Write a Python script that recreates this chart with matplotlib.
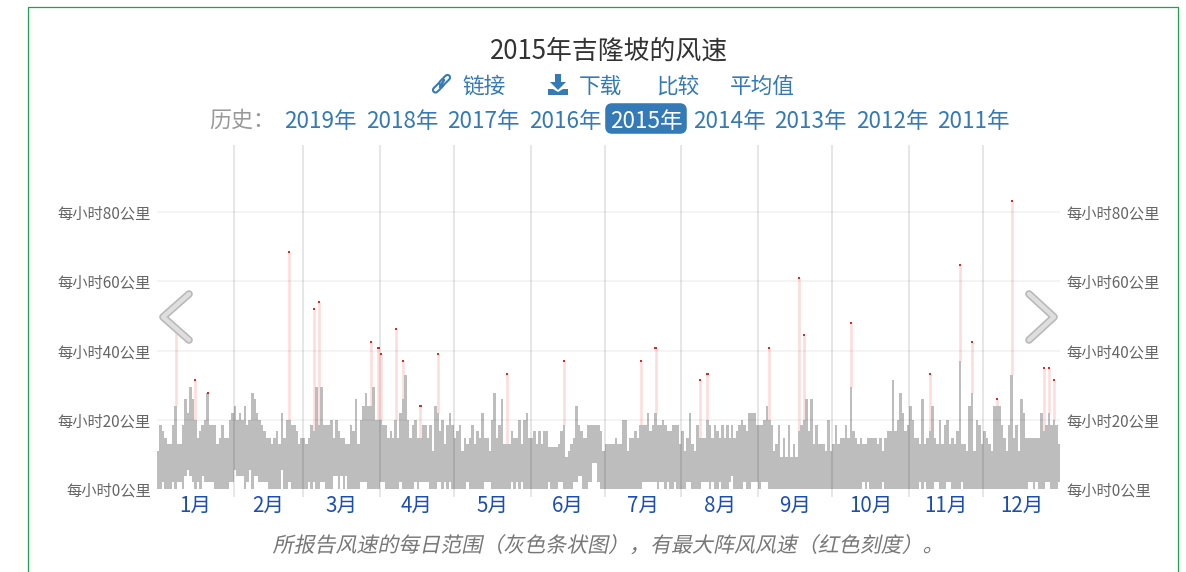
import matplotlib
matplotlib.use('Agg')
import matplotlib.pyplot as plt
import matplotlib.patheffects as pe
from matplotlib.patches import FancyBboxPatch, Polygon
from matplotlib.transforms import Affine2D

WIDTH = 1186
HEIGHT = 572
DPI = 100

plt.rcParams['font.family'] = ['Noto Sans CJK SC', 'DejaVu Sans']

TITLE = '2015年吉隆坡的风速'
CAPTION = '所报告风速的每日范围（灰色条状图），有最大阵风风速（红色刻度）。'
MONTHS = ['1月', '2月', '3月', '4月', '5月', '6月', '7月', '8月', '9月', '10月', '11月', '12月']
MONTH_DAYS = [31, 28, 31, 30, 31, 30, 31, 31, 30, 31, 30, 31]
YEARS = ['2019年', '2018年', '2017年', '2016年', '2015年', '2014年', '2013年', '2012年', '2011年']
Y_TICKS = [0, 20, 40, 60, 80]
Y_LABELS = ['每小时0公里', '每小时20公里', '每小时40公里', '每小时60公里', '每小时80公里']

# daily high in km/h
jan = [11, 18.5, 16.7, 14.8, 13, 13, 18.5, 24, 13, 13, 18.5, 26, 22, 29.6, 26, 20, 14.8, 16.7, 18.5, 20, 27.8,
       18.5, 18.5, 18.5, 13, 14.8, 18.5, 14.8, 14.8, 20, 22]
feb = [24, 20, 22, 20, 24, 18.5, 20, 27.8, 26, 22, 20, 18.5, 16.7, 14.8, 14.8, 13, 14.8, 16.7, 13, 22, 14.8,
       20, 20, 18.5, 18.5, 16.7, 13, 14.8]
mar = [14.8, 13, 14.8, 18.5, 16.7, 29.6, 18.5, 29.6, 18.5, 18.5, 18.5, 20, 14.8, 20, 16.7, 14.8, 14.8, 13, 13,
       18.5, 16.7, 26, 13, 20, 24, 27.8, 24, 24, 29.6, 20, 20]
apr = [20, 18.5, 18.5, 14.8, 16.7, 14.8, 20, 14.8, 22, 26, 33, 20, 14.8, 18.5, 20, 14.8, 14.8, 18.5, 18.5,
       14.8, 18.5, 11, 24, 22, 16.7, 20, 13, 18.5, 22, 18.5]
may = [14.8, 16.7, 18.5, 11, 14.8, 13, 14.8, 18.5, 13, 16.7, 14.8, 22, 14.8, 14.8, 11, 20, 27.8, 14.8, 18.5,
       26, 13, 13, 13, 16.7, 14.8, 14.8, 20, 13, 20, 22, 14.8]
jun = [14.8, 16.7, 13, 16.7, 13, 16.7, 16.7, 12, 12, 12, 12, 13, 16.7, 18.5, 9.3, 11, 13, 14.8, 24, 18.5,
       16.7, 14.8, 14.8, 18.5, 18.5, 18.5, 18.5, 18.5, 16.7, 11]
jul = [13, 13, 13, 13, 14.8, 13, 13, 20, 20, 11, 14.8, 14.8, 16.7, 14.8, 18.5, 18.5, 18.5, 22, 16.7, 18.5, 22,
       18.5, 18.5, 20, 18.5, 16.7, 16.7, 18.5, 18.5, 18.5, 13]
aug = [16.7, 11, 14.8, 22, 13, 11, 18.5, 14.8, 14.8, 14.8, 20, 18.5, 14.8, 18.5, 16.7, 14.8, 18.5, 14.8, 18.5,
       14.8, 18.5, 14.8, 16.7, 18.5, 20, 18.5, 16.7, 22, 22, 22, 18.5]
sep = [18.5, 18.5, 20, 24, 20, 18.5, 11, 13, 18.5, 9.3, 14.8, 9.3, 18.5, 9.3, 13, 9.3, 16.7, 18.5, 20, 26,
       16.7, 26, 13, 18.5, 13, 13, 13, 11, 20, 11]
oct_ = [13, 18.5, 13, 14.8, 14.8, 18.5, 14.8, 29.6, 16.7, 14.8, 13, 14.8, 13, 13, 14.8, 14.8, 14.8, 14.8, 13,
        14.8, 11, 14.8, 16.7, 16.7, 31.5, 16.7, 20, 27.8, 22, 16.7, 18.5]
nov = [24, 20, 14.8, 14.8, 13, 26, 13, 14.8, 16.7, 24, 14.8, 13, 20, 13, 18.5, 20, 13, 14.8, 13, 16.7, 37, 13,
       13, 11, 24, 27.8, 11, 20, 18.5, 13]
dec = [16.7, 14.8, 13, 11, 24, 24, 24, 18.5, 14.8, 11, 18.5, 33, 14.8, 18.5, 11, 26, 22, 14.8, 14.8, 14.8,
       14.8, 14.8, 14.8, 22, 16.7, 18.5, 22, 18.5, 20, 18.5, 13]
highs = jan + feb + mar + apr + may + jun + jul + aug + sep + oct_ + nov + dec

# daily low: only the days that sit above zero
low_days = [2, 6, 8, 9, 11, 12, 13, 14, 16, 18, 19, 20, 21, 22, 29, 30, 31, 32, 33, 34, 36, 37, 39, 40, 41, 42,
            43, 44, 50, 53, 61, 63, 66, 67, 71, 72, 74, 76, 82, 83, 84, 90, 91, 98, 104, 106, 107, 108, 109, 113,
            114, 116, 118, 125, 132, 133, 134, 143, 145, 147, 158, 162, 163, 168, 169, 170, 171, 174, 175, 176,
            177, 178, 196, 197, 198, 199, 200, 201, 203, 204, 206, 209, 214, 215, 220, 221, 222, 224, 227, 231,
            232, 237, 240, 241, 242, 244, 245, 246, 285, 287, 293, 308, 310, 314, 315, 319, 320, 325, 352, 353,
            355, 359, 360, 364]
low_speeds = [1.9, 1.9, 1.9, 1.9, 3.7, 5.5, 3.7, 1.9, 1.9, 3.7, 1.9, 1.9, 1.9, 1.9, 1.9, 1.9, 5.5, 3.7, 3.7, 3.7,
              1.9, 5.5, 3.7, 3.7, 1.9, 1.9, 1.9, 1.9, 5.5, 1.9, 1.9, 1.9, 1.9, 1.9, 3.7, 3.7, 3.7, 3.7, 1.9, 1.9,
              1.9, 1.9, 1.9, 1.9, 1.9, 1.9, 1.9, 1.9, 1.9, 1.9, 1.9, 1.9, 1.9, 1.9, 1.9, 1.9, 1.9, 1.9, 1.9, 1.9,
              1.9, 1.9, 1.9, 1.9, 1.9, 3.7, 3.7, 1.9, 1.9, 7.4, 7.4, 1.9, 1.9, 1.9, 1.9, 1.9, 1.9, 1.9, 1.9, 1.9,
              1.9, 1.9, 1.9, 1.9, 1.9, 1.9, 1.9, 1.9, 1.9, 1.9, 3.7, 1.9, 1.9, 1.9, 1.9, 1.9, 1.9, 1.9, 1.9, 1.9,
              1.9, 1.9, 1.9, 1.9, 1.9, 1.9, 1.9, 1.9, 1.9, 1.9, 1.9, 1.9, 1.9, 1.9]

gust_days = [7, 15, 20, 53, 63, 65, 86, 89, 90, 96, 99, 106, 113, 141, 164, 195, 201, 219, 222, 247, 259, 261,
             280, 312, 324, 329, 339, 345, 358, 360, 362]
gust_speeds = [46, 31.5, 27.8, 68.5, 52, 54, 42.5, 40.7, 38.9, 46.3, 37, 24, 38.9, 33.3, 37, 37, 40.7, 31.5, 33.3,
               40.7, 61, 44.4, 48, 33.3, 64.8, 42.6, 25.9, 83.3, 35, 35, 31.5]

LINK = '#337ab7'


class Slant(pe.AbstractPathEffect):
    # CJK fonts have no italic, so skew the glyphs
    def draw_path(self, renderer, gc, tpath, affine, rgbFace=None):
        renderer.draw_path(gc, tpath, Affine2D().skew_deg(12, 0) + affine, rgbFace)


fig = plt.figure(figsize=(WIDTH / DPI, HEIGHT / DPI), dpi=DPI)
ax = fig.add_axes([157 / WIDTH, 1 - 489 / HEIGHT, 903 / WIDTH, 344 / HEIGHT])

lows = [0.0] * 365
for d, v in zip(low_days, low_speeds):
    lows[d] = v
days = [i + 0.5 for i in range(365)]
heights = [h - l for h, l in zip(highs, lows)]

ax.bar(days, heights, bottom=lows, width=1.03, color='#bdbdbd', linewidth=0, zorder=2)

gust_x = [days[d] for d in gust_days]
gust_base = [highs[d] for d in gust_days]
ax.vlines(gust_x, gust_base, gust_speeds, color='#ffdcdc', lw=1.9, zorder=1)
ax.hlines(gust_speeds, [x - 0.45 for x in gust_x], [x + 0.45 for x in gust_x], color='#e01010', lw=1.3, zorder=3)

ax.set_xlim(0, 365)
ax.set_ylim(0, 344 / 3.46)

edges = [sum(MONTH_DAYS[:i]) for i in range(13)]
centers = [(edges[i] + edges[i + 1]) / 2 for i in range(12)]
ax.vlines(edges[1:-1], -2.3, 344 / 3.46, color='black', alpha=0.1, lw=1.4, zorder=4, clip_on=False)
ax.hlines(Y_TICKS[1:], 0, 365, color='black', alpha=0.045, lw=1.4, zorder=4)

ax.set_xticks(centers)
ax.set_xticklabels(MONTHS, fontsize=14.8, color='#1c4db3')
ax.set_yticks(Y_TICKS)
ax.set_yticklabels(Y_LABELS, fontsize=11, color='#666666', va='center_baseline')
ax.tick_params(axis='x', length=0, pad=4)
ax.tick_params(axis='y', length=0, pad=4.3)

ax2 = ax.twinx()
ax2.set_ylim(ax.get_ylim())
ax2.set_yticks(Y_TICKS)
ax2.set_yticklabels(Y_LABELS, fontsize=11, color='#666666', va='center_baseline')
ax2.tick_params(axis='y', length=0, pad=4.3)

for a in (ax, ax2):
    for s in a.spines.values():
        s.set_visible(False)

# everything around the chart, in pixel coordinates
top = fig.add_axes([0, 0, 1, 1], facecolor='none')
top.set_xlim(0, WIDTH)
top.set_ylim(HEIGHT, 0)
top.axis('off')

top.plot([28, 28, 1178, 1178], [572, 7, 7, 572], color='#1fa34a', lw=0.9)

top.text(609.5, 51, TITLE, ha='center', va='center', fontsize=18.6, color='#333333')

for label, x in zip(['链接', '下载', '比较', '平均值'], [484, 600, 678, 762]):
    top.text(x, 87, label, ha='center', va='center', fontsize=15.6, color=LINK)

# link icon
for a_x, a_y in (([435.5, 441], [90, 84.5]), ([442, 447.5], [83, 77.5])):
    top.plot(a_x, a_y, color=LINK, lw=5.2, solid_capstyle='round')
    top.plot(a_x, a_y, color='white', lw=2.2, solid_capstyle='round')
top.plot([440, 444], [87, 80], color=LINK, lw=1.8, solid_capstyle='round')
# download icon
top.add_patch(Polygon([(555, 74), (561, 74), (561, 82), (566, 82), (558, 90), (550, 82), (555, 82)], color=LINK, lw=0))
top.add_patch(Polygon([(548, 89), (553, 89), (558, 92), (563, 89), (568, 89), (568, 95), (548, 95)], color=LINK, lw=0))

top.text(209, 121, '历史：', ha='left', va='center', fontsize=15.8, color='#999999')
top.add_patch(FancyBboxPatch((608, 106), 76, 25, boxstyle='round,pad=0,rounding_size=4', fc=LINK, ec=LINK, lw=4))
for label, x in zip(YEARS, [320, 402, 483, 565, 646, 729, 810, 892, 973]):
    top.text(x, 121, label, ha='center', va='center', fontsize=16.2, color='white' if label == '2015年' else LINK)

for xs in ([189, 163, 189], [1029, 1054, 1029]):
    top.plot(xs, [294, 317, 340], color='#b8b8b8', lw=5.5, solid_capstyle='round', solid_joinstyle='round')
    top.plot(xs, [294, 317, 340], color='#dedede', lw=3.2, solid_capstyle='round', solid_joinstyle='round')

cap = top.text(608.5, 546, CAPTION, ha='center', va='center', fontsize=15.1, color='#777777')
cap.set_path_effects([Slant()])

fig.savefig('out.png', dpi=DPI)
